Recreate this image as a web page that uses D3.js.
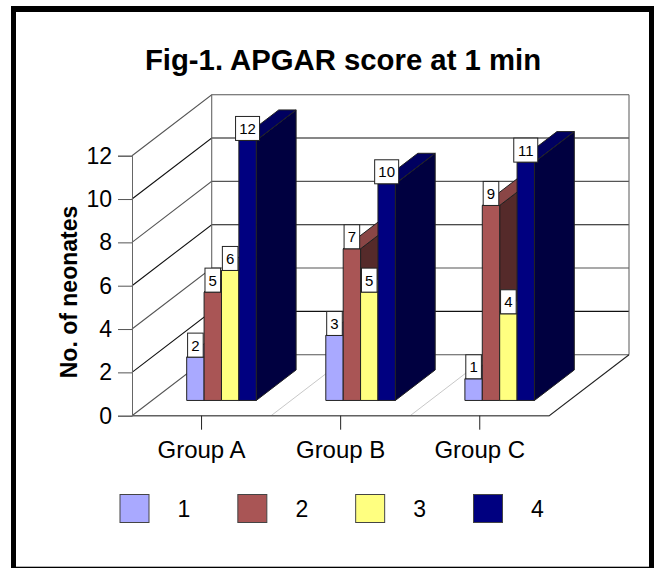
<!DOCTYPE html>
<html>
<head>
<meta charset="utf-8">
<script src="https://cdn.jsdelivr.net/npm/d3@7"></script>
<style>
html, body { margin: 0; padding: 0; background: #fff; }
svg { display: block; }
text { font-family: "Liberation Sans", Arial, sans-serif; fill: #000; }
</style>
</head>
<body>
<div id="chart"></div>
<script>
var categories = ["Group A", "Group B", "Group C"];
var seriesNames = ["1", "2", "3", "4"];
var series1 = [2, 3, 1];
var series2 = [5, 7, 9];
var series3 = [6, 5, 4];
var series4 = [12, 10, 11];
var yTicks = [0, 2, 4, 6, 8, 10, 12];
var frontColors = ["#a9a9ff", "#a95555", "#ffff80", "#000080"];
var topColors = ["#7f7fbf", "#8a4646", "#bfbf60", "#000060"];
var sideColors = ["#55557f", "#552a2a", "#7f7f40", "#000040"];

var allSeries = [series1, series2, series3, series4];
var width = 654, height = 568;

var svg = d3.select("#chart").append("svg")
    .attr("width", width)
    .attr("height", height);

// frame
svg.append("rect")
    .attr("x", 11).attr("y", 6)
    .attr("width", 643).attr("height", 562)
    .attr("fill", "#000");
svg.append("rect")
    .attr("x", 16).attr("y", 12)
    .attr("width", 633).attr("height", 554.7)
    .attr("fill", "#fff");

// scales: x along the front edge, y for the value, z goes into the page
var x = d3.scaleBand().domain(categories).range([132, 549.3]);
var y = d3.scaleLinear().domain([0, 12]).range([415.7, 155.7]);
var series = d3.scaleBand().domain(seriesNames).range([0.25, 0.75]);
var zx = d3.scaleLinear().domain([0, 1]).range([0, 79.7]);
var zy = d3.scaleLinear().domain([0, 1]).range([0, -61]);
var barFront = 0.25, barBack = 0.75;

function pt(px, value, z) {
    return [px + zx(z), y(value) + zy(z)];
}
var poly = d3.line();

var g = svg.append("g");
var xStart = x.range()[0], xEnd = x.range()[1];

// floor diagonals between the groups
categories.slice(1).forEach(function (c) {
    g.append("path")
        .attr("d", poly([pt(x(c), 0, 0), pt(x(c), 0, 1)]))
        .attr("fill", "none").attr("stroke", "#c8c8c8").attr("stroke-width", 1);
});

// wall grid
yTicks.forEach(function (t) {
    g.append("path")
        .attr("d", poly([pt(xStart, t, 0), pt(xStart, t, 1), pt(xEnd, t, 1)]))
        .attr("fill", "none")
        .attr("stroke", t % 4 == 0 ? "#555" : "#111")
        .attr("stroke-width", 1.1);
});
g.append("path")
    .attr("d", poly([pt(xStart, 0, 1), pt(xStart, 12, 1)]))
    .attr("stroke", "#666").attr("stroke-width", 1.1);
g.append("path")
    .attr("d", poly([pt(xEnd, 0, 1), pt(xEnd, 12, 1)]))
    .attr("stroke", "#666").attr("stroke-width", 1.1);
g.append("path")
    .attr("d", poly([pt(xStart, 0, 0), pt(xEnd, 0, 0), pt(xEnd, 0, 1)]))
    .attr("fill", "none").attr("stroke", "#222").attr("stroke-width", 1.1);
g.append("path")
    .attr("d", poly([pt(xStart, 0, 0), pt(xEnd, 0, 0)]))
    .attr("stroke", "#666").attr("stroke-width", 1.1);

// axes
var yAxis = d3.axisLeft(y).tickValues(yTicks).tickSize(14).tickPadding(6);
var yG = svg.append("g").attr("transform", "translate(" + xStart + ",0)").call(yAxis);
yG.selectAll("text").attr("font-size", 23).style("font-family", '"Liberation Sans", Arial, sans-serif');
yG.selectAll("line").attr("stroke", "#555");
yG.select(".domain").attr("stroke", "#666");

var xAxis = d3.axisBottom(x).tickSize(14).tickPadding(11);
var xG = svg.append("g").attr("transform", "translate(0," + y(0) + ")").call(xAxis);
xG.selectAll("text").attr("font-size", 24).style("font-family", '"Liberation Sans", Arial, sans-serif');
xG.selectAll("line").attr("stroke", "#222");
xG.select(".domain").remove();

// bars
var barW = x.bandwidth() * 0.5 / seriesNames.length;
categories.forEach(function (c, ci) {
    seriesNames.forEach(function (s, si) {
        var v = allSeries[si][ci];
        var x0 = x(c) + x.bandwidth() * series(s);
        var x1 = x0 + barW;
        var bar = g.append("g").attr("stroke", "#222").attr("stroke-width", 1).attr("stroke-linejoin", "round");
        bar.append("path").attr("fill", sideColors[si]).attr("d", poly([
            pt(x1, 0, barFront), pt(x1, 0, barBack), pt(x1, v, barBack), pt(x1, v, barFront)
        ]) + "Z");
        bar.append("path").attr("fill", topColors[si]).attr("d", poly([
            pt(x0, v, barFront), pt(x1, v, barFront), pt(x1, v, barBack), pt(x0, v, barBack)
        ]) + "Z");
        bar.append("path").attr("fill", frontColors[si]).attr("d", poly([
            pt(x0, 0, barFront), pt(x1, 0, barFront), pt(x1, v, barFront), pt(x0, v, barFront)
        ]) + "Z");
    });
});

// value labels sit on top of the bars, drawn last
categories.forEach(function (c, ci) {
    seriesNames.forEach(function (s, si) {
        var v = allSeries[si][ci];
        var p = pt(x(c) + x.bandwidth() * series(s) + barW / 2, v, barFront);
        var w = String(v).length > 1 ? 24 : 15.6;
        svg.append("rect")
            .attr("x", p[0] - w / 2).attr("y", p[1] - 24)
            .attr("width", w).attr("height", 24)
            .attr("fill", "#fff").attr("stroke", "#222").attr("stroke-width", 1);
        svg.append("text")
            .attr("x", p[0]).attr("y", p[1] - 6.5)
            .attr("text-anchor", "middle").attr("font-size", 15)
            .text(v);
    });
});

// title
svg.append("text")
    .attr("x", 343).attr("y", 70)
    .attr("text-anchor", "middle")
    .attr("font-size", 29.3).attr("font-weight", "bold")
    .text("Fig-1. APGAR score at 1 min");

svg.append("text")
    .attr("transform", "translate(77,292) rotate(-90)")
    .attr("text-anchor", "middle")
    .attr("font-size", 23).attr("font-weight", "bold")
    .text("No. of neonates");

// legend
var legend = d3.scalePoint().domain(seriesNames).range([120, 473.5]);
seriesNames.forEach(function (s, si) {
    svg.append("rect")
        .attr("x", legend(s)).attr("y", 494.5)
        .attr("width", 29).attr("height", 28)
        .attr("fill", frontColors[si]).attr("stroke", "#444").attr("stroke-width", 1);
    svg.append("text")
        .attr("x", legend(s) + 64).attr("y", 516.5)
        .attr("text-anchor", "middle").attr("font-size", 23)
        .text(s);
});
</script>
</body>
</html>
